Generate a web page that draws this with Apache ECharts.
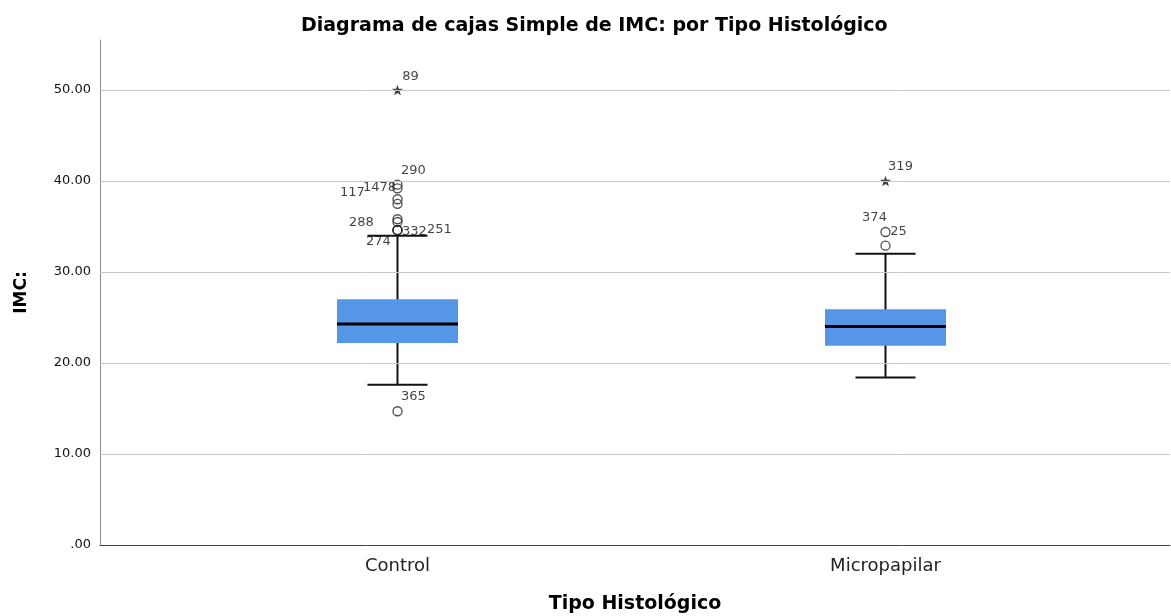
<!DOCTYPE html>
<html>
<head>
<meta charset="utf-8">
<title>Diagrama de cajas Simple de IMC</title>
<script src="https://cdn.jsdelivr.net/npm/echarts@6/dist/echarts.min.js"></script>
<style>
  html, body { margin: 0; padding: 0; background: #fff; }
  #chart { width: 1171px; height: 616px; }
</style>
</head>
<body>
<div id="chart"></div>
<script>
// Groups on the horizontal axis
const categories = ['Control', 'Micropapilar'];

// Box summaries per group: [lower whisker, Q1, median, Q3, upper whisker]
const boxStats = [
  [17.6, 22.2, 24.3, 27.0, 34.0],
  [18.4, 21.9, 24.0, 25.9, 32.0]
];

// Mild outliers (circles): [group index, IMC, case id]
const outliers = [
  [0, 39.6, '290'],
  [0, 39.2, '1478'],
  [0, 38.0, '117'],
  [0, 37.5, ''],
  [0, 35.8, '288'],
  [0, 35.5, ''],
  [0, 34.6, '332'],
  [0, 34.6, '251'],
  [0, 34.6, '274'],
  [0, 14.7, '365'],
  [1, 34.4, '25'],
  [1, 32.9, '374']
];

// Extreme values (stars): [group index, IMC, case id]
const extremes = [
  [0, 50.0, '89'],
  [1, 40.0, '319']
];

// Y axis tick values
const yTicks = [0, 10, 20, 30, 40, 50];

// Where each case-id label sits relative to its marker (px)
const labelOffsets = {
  '89': [13, -13], '290': [16, -14], '1478': [-18, -1], '117': [-45, -7],
  '288': [-36, 3], '332': [17, 1], '251': [42, -1], '274': [-19, 11],
  '365': [16, -15], '319': [15, -14], '25': [13, 0], '374': [-11, -28]
};

const FONT = 'DejaVu Sans';
const BOX_W = 0.248;   // box width in axis units
const CAP_W = 0.123;   // whisker cap width in axis units
const BOX_FILL = '#5596E6';
const STAR = 'path://M100,0 L123.5,67.6 L195.1,69.1 L138,112.4 L158.8,180.9 L100,140 L41.2,180.9 L62,112.4 L4.9,69.1 L76.5,67.6 Z';

function renderBox(params, api) {
  const x = api.value(0);
  const lo = api.value(1), q1 = api.value(2), med = api.value(3), q3 = api.value(4), hi = api.value(5);
  const half = api.size([BOX_W, 0])[0] / 2;
  const capHalf = api.size([CAP_W, 0])[0] / 2;
  const pLo = api.coord([x, lo]);
  const pQ1 = api.coord([x, q1]);
  const pMed = api.coord([x, med]);
  const pQ3 = api.coord([x, q3]);
  const pHi = api.coord([x, hi]);
  const cx = pMed[0];
  const stroke = { stroke: '#111', lineWidth: 2 };
  return {
    type: 'group',
    children: [
      { type: 'line', shape: { x1: cx, y1: pLo[1], x2: cx, y2: pHi[1] }, style: stroke },
      { type: 'line', shape: { x1: cx - capHalf, y1: pLo[1], x2: cx + capHalf, y2: pLo[1] }, style: stroke },
      { type: 'line', shape: { x1: cx - capHalf, y1: pHi[1], x2: cx + capHalf, y2: pHi[1] }, style: stroke },
      { type: 'rect', shape: { x: cx - half, y: pQ3[1], width: half * 2, height: pQ1[1] - pQ3[1] }, style: { fill: BOX_FILL } },
      { type: 'line', shape: { x1: cx - half, y1: pMed[1], x2: cx + half, y2: pMed[1] }, style: { stroke: '#000', lineWidth: 3 } }
    ]
  };
}

function pointItems(rows) {
  return rows.map(r => {
    const item = { value: [r[0], r[1]], name: r[2] };
    const off = labelOffsets[r[2]];
    if (off) item.label = { offset: off };
    else item.label = { show: false };
    return item;
  });
}

const pointLabel = {
  show: true,
  position: 'inside',
  formatter: '{b}',
  fontFamily: FONT,
  fontSize: 13,
  color: '#111'
};

const chart = echarts.init(document.getElementById('chart'), null, { renderer: 'canvas' });

chart.setOption({
  backgroundColor: '#fff',
  animation: false,
  title: {
    text: 'Diagrama de cajas Simple de IMC: por Tipo Histológico',
    left: 296,
    top: 12,
    textStyle: { fontFamily: FONT, fontSize: 19, fontWeight: 'bold', color: '#000' }
  },
  grid: { left: 100, right: 1, top: 40, bottom: 71, containLabel: false, outerBoundsMode: 'none' },
  xAxis: {
    type: 'value',
    min: -0.6096,
    max: 1.583,
    name: 'Tipo Histológico',
    nameLocation: 'middle',
    nameGap: 50,
    nameTextStyle: { fontFamily: FONT, fontSize: 19, fontWeight: 'bold', color: '#000' },
    axisLine: { show: true, onZero: false, lineStyle: { color: '#444', width: 1 } },
    axisTick: { show: false },
    splitLine: { show: false },
    axisLabel: {
      customValues: [0, 1],
      margin: 12,
      fontFamily: FONT,
      fontSize: 18,
      color: '#222',
      formatter: v => categories[Math.round(v)] || ''
    }
  },
  yAxis: {
    type: 'value',
    min: 0,
    max: 55.5,
    interval: 10,
    name: 'IMC:',
    nameLocation: 'middle',
    nameGap: 70,
    nameRotate: 90,
    nameTextStyle: { fontFamily: FONT, fontSize: 17, fontWeight: 'bold', color: '#000' },
    axisLine: { show: true, onZero: false, lineStyle: { color: '#8c8c8c', width: 1 } },
    axisTick: { show: false },
    splitLine: { show: false },
    axisLabel: {
      margin: 9,
      fontFamily: FONT,
      fontSize: 13,
      color: '#111',
      formatter: v => (yTicks.indexOf(v) < 0 ? '' : (v === 0 ? '.00' : v.toFixed(2)))
    }
  },
  series: [
    {
      type: 'custom',
      renderItem: renderBox,
      encode: { x: 0, y: [1, 2, 3, 4, 5] },
      data: boxStats.map((s, i) => [i].concat(s)),
      z: 3,
      markLine: {
        silent: true,
        symbol: 'none',
        label: { show: false },
        lineStyle: { color: '#c8c8c8', width: 1, type: 'solid' },
        data: yTicks.filter(v => v > 0).map(v => ({ yAxis: v }))
      }
    },
    {
      type: 'scatter',
      symbol: 'circle',
      symbolSize: 9,
      itemStyle: { color: 'rgba(255,255,255,0)', borderColor: '#222', borderWidth: 1.3 },
      label: pointLabel,
      data: pointItems(outliers),
      z: 4
    },
    {
      type: 'scatter',
      symbol: STAR,
      symbolKeepAspect: true,
      symbolSize: 11,
      itemStyle: { color: '#111' },
      label: pointLabel,
      data: pointItems(extremes),
      z: 4
    }
  ]
});
</script>
</body>
</html>
